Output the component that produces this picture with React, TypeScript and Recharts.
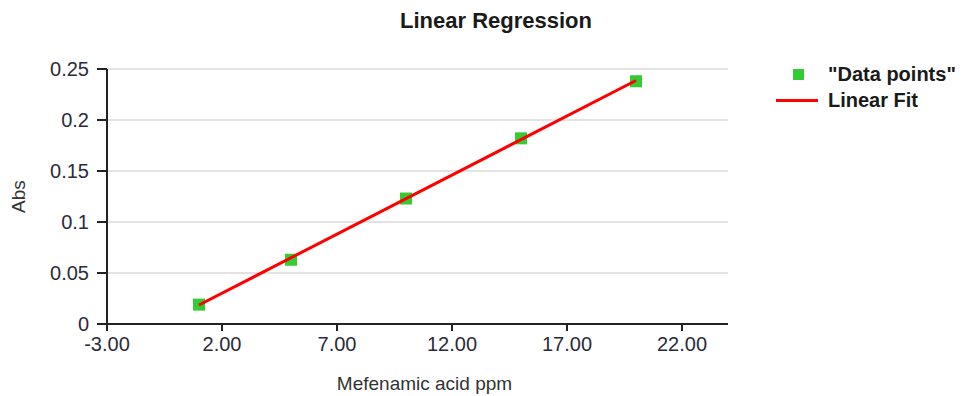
import { ScatterChart, Scatter, XAxis, YAxis, CartesianGrid, Label } from 'recharts';

// Calibration standards (concentration in ppm vs absorbance)
const concentrations = [1, 5, 10, 15, 20];
const absorbances = [0.019, 0.063, 0.123, 0.182, 0.238];

// End points of the least-squares fit line
const fitX = [1, 20];
const fitY = [0.0186, 0.2387];

const xTicks = [-3, 2, 7, 12, 17, 22];
const yTicks = [0, 0.05, 0.1, 0.15, 0.2, 0.25];

const points = concentrations.map((x, i) => ({ x, y: absorbances[i] }));
const fitLine = fitX.map((x, i) => ({ x, y: fitY[i] }));

const FONT = 'Arial, "Liberation Sans", sans-serif';
const GREEN = '#33cc33';
const RED = '#ff0000';

const SquareDot = (props: any) => {
    const { cx, cy } = props;
    return <rect x={cx - 6} y={cy - 6} width={12} height={12} fill={GREEN} />;
};

const NoDot = () => <g />;

const legendText = { position: 'absolute' as const, left: 828, fontSize: 20, fontWeight: 'bold' as const, color: '#1a1a1a', lineHeight: '24px', whiteSpace: 'nowrap' as const };

export default function App() {
    return (
        <div style={{ position: 'absolute', left: 0, top: 0, width: 966, height: 396, background: '#fff', fontFamily: FONT }}>
            <div
                style={{
                    position: 'absolute',
                    left: 376,
                    top: 8,
                    width: 240,
                    textAlign: 'center',
                    fontSize: 22,
                    fontWeight: 'bold',
                    color: '#1a1a1a',
                    whiteSpace: 'nowrap',
                }}
            >
                Linear Regression
            </div>

            <ScatterChart width={966} height={396} margin={{ top: 69, right: 238, bottom: 0, left: 0 }}>
                <CartesianGrid vertical={false} stroke="#e3e3e3" strokeWidth={2} />
                <XAxis
                    type="number"
                    dataKey="x"
                    domain={[-3, 24]}
                    ticks={xTicks}
                    allowDataOverflow
                    height={72}
                    stroke="#222"
                    strokeWidth={2}
                    tickSize={7}
                    tickMargin={6}
                    tick={{ fill: '#2b2b3a', fontSize: 20, fontFamily: FONT }}
                    tickFormatter={(v: number) => v.toFixed(2)}
                >
                    <Label
                        value="Mefenamic acid ppm"
                        position="insideBottom"
                        offset={6}
                        dx={7}
                        style={{ fill: '#333', fontSize: 19, fontFamily: FONT }}
                    />
                </XAxis>
                <YAxis
                    type="number"
                    dataKey="y"
                    domain={[0, 0.25]}
                    ticks={yTicks}
                    width={107}
                    stroke="#222"
                    strokeWidth={2}
                    tickSize={10}
                    tickMargin={8}
                    tick={{ fill: '#2b2b3a', fontSize: 20, fontFamily: FONT }}
                >
                    <Label
                        value="Abs"
                        angle={-90}
                        position="insideLeft"
                        offset={18}
                        style={{ fill: '#333', fontSize: 19, fontFamily: FONT, textAnchor: 'middle' }}
                    />
                </YAxis>
                <Scatter data={points} shape={SquareDot} isAnimationActive={false} />
                <Scatter
                    data={fitLine}
                    line={{ stroke: RED, strokeWidth: 3 }}
                    shape={NoDot}
                    isAnimationActive={false}
                />
            </ScatterChart>

            {/* legend */}
            <span style={{ position: 'absolute', left: 793, top: 69, width: 11, height: 11, background: GREEN }} />
            <span style={{ ...legendText, top: 62 }}>"Data points"</span>
            <span style={{ position: 'absolute', left: 776, top: 99, width: 42, height: 3, background: RED }} />
            <span style={{ ...legendText, top: 88 }}>Linear Fit</span>
        </div>
    );
}
